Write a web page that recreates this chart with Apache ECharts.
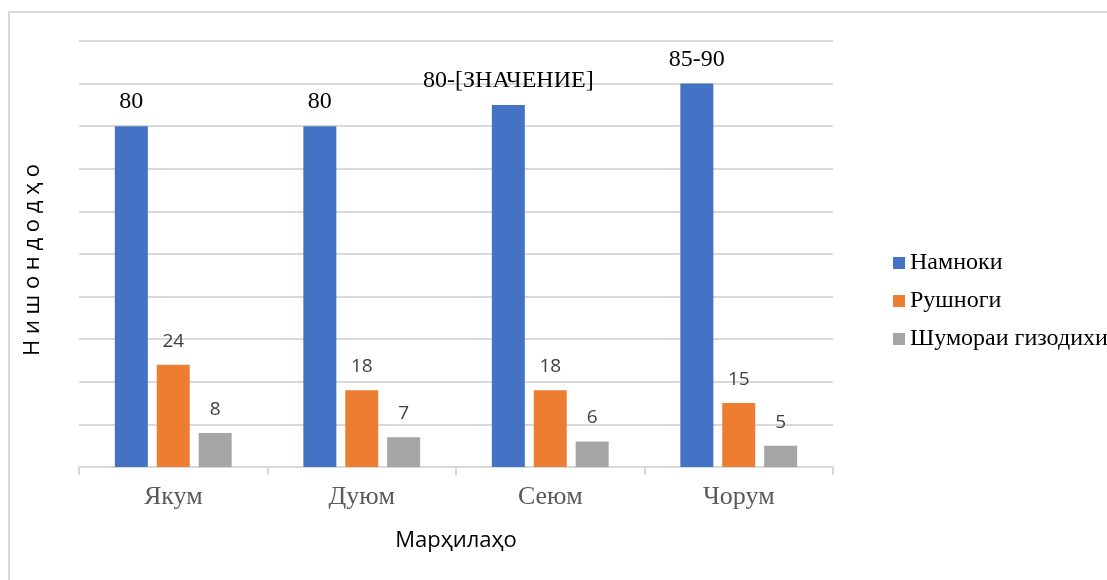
<!DOCTYPE html>
<html>
<head>
<meta charset="utf-8">
<script src="https://cdn.jsdelivr.net/npm/echarts@6/dist/echarts.min.js"></script>
<style>
  html, body { margin: 0; padding: 0; background: #fff; overflow: hidden; }
  #frame { position: absolute; left: 8px; top: 11px; width: 1200px; height: 700px; border: 2px solid #d9d9d9; box-sizing: border-box; }
  #chart { position: absolute; left: 0; top: 0; width: 1107px; height: 580px; }
</style>
</head>
<body>
<div id="frame"></div>
<div id="chart"></div>
<script>
// марҳилаҳо
var stages = ['Якум', 'Дуюм', 'Сеюм', 'Чорум'];
var seriesNames = ['Намноки', 'Рушноги', 'Шумораи гизодихи'];
// қиматҳо
var namnoki = [80, 80, 85, 90];
var namnokiLabels = ['80', '80', '80-[ЗНАЧЕНИЕ]', '85-90'];
var rushnogi = [24, 18, 18, 15];
var shumora = [8, 7, 6, 5];
var colors = ['#4472c4', '#ed7d31', '#a5a5a5'];

var chart = echarts.init(document.getElementById('chart'));

var serif = 'Liberation Serif, Times New Roman, serif';
var sans = 'Open Sans, Noto Sans, sans-serif';

var sansLabel = {
  show: true,
  position: 'top',
  distance: 14,
  color: '#404040',
  fontSize: 19,
  fontFamily: sans
};

var option = {
  animation: false,
  color: colors,
  legend: {
    orient: 'vertical',
    left: 893,
    top: 251,
    padding: 0,
    itemWidth: 12,
    itemHeight: 12,
    itemGap: 14,
    icon: 'rect',
    textStyle: { fontFamily: serif, fontSize: 24, color: '#000' },
    data: seriesNames
  },
  grid: { left: 79, right: 274, top: 41, bottom: 113 },
  xAxis: {
    type: 'category',
    data: stages,
    name: 'Марҳилаҳо',
    nameLocation: 'middle',
    nameGap: 63,
    nameTextStyle: { fontFamily: sans, fontSize: 22, color: '#000' },
    axisLine: { lineStyle: { color: '#d9d9d9', width: 2 } },
    axisTick: { show: true, length: 8, lineStyle: { color: '#d9d9d9', width: 2 } },
    axisLabel: { margin: 17, fontFamily: serif, fontSize: 26, color: '#595959' }
  },
  yAxis: {
    type: 'value',
    min: 0,
    max: 100,
    interval: 10,
    name: 'Н и ш о н д о д ҳ о',
    nameLocation: 'middle',
    nameGap: 35,
    nameTextStyle: { fontFamily: sans, fontSize: 22, color: '#000', padding: [0, 12, 0, 0] },
    axisLine: { show: false },
    axisTick: { show: false },
    axisLabel: { show: false },
    splitLine: { lineStyle: { color: '#d9d9d9', width: 2 } }
  },
  series: [
    {
      name: seriesNames[0],
      type: 'bar',
      data: namnoki,
      barWidth: 33,
      barGap: '27%',
      label: {
        show: true,
        position: 'top',
        distance: 12,
        color: '#000',
        fontSize: 24,
        fontFamily: serif,
        formatter: function (p) { return namnokiLabels[p.dataIndex]; }
      }
    },
    { name: seriesNames[1], type: 'bar', data: rushnogi, barWidth: 33, barGap: '27%', label: sansLabel },
    { name: seriesNames[2], type: 'bar', data: shumora, barWidth: 33, barGap: '27%', label: sansLabel }
  ]
};
chart.setOption(option);
</script>
</body>
</html>
